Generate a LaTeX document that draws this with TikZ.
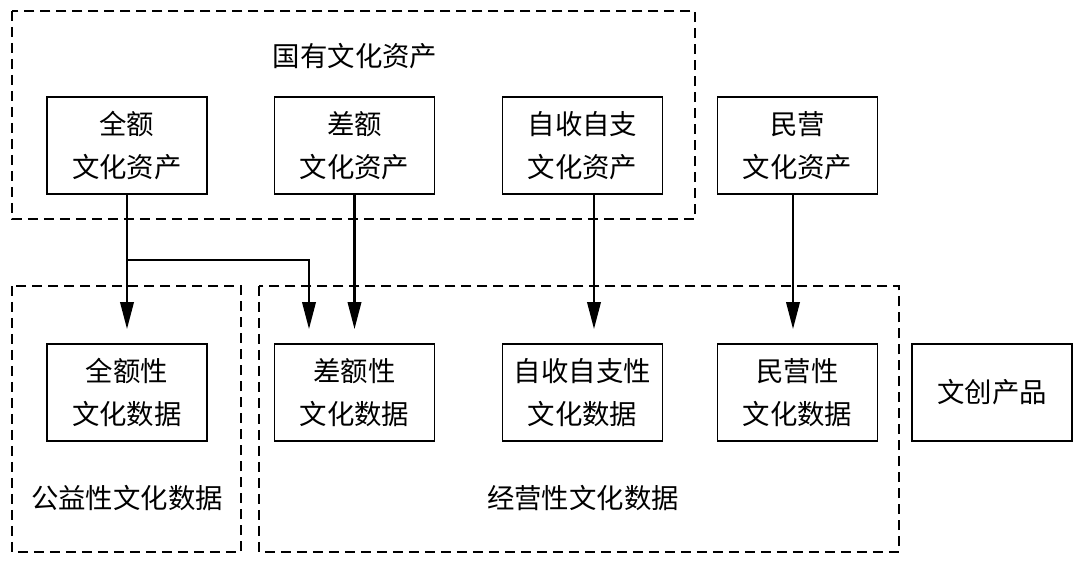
\documentclass[tikz,border=0pt]{standalone}
\usepackage{fontspec}
\setmainfont{Noto Sans CJK SC}
\usetikzlibrary{arrows.meta, positioning}
\tikzset{
  % box styles
  asset/.style={rectangle, draw=black, line width=1.1pt, minimum width=3.2cm, minimum height=1.94cm, inner sep=0pt, align=center, font=\fontsize{15.6}{24.4}\selectfont},
  group/.style={rectangle, draw=black, line width=1pt, dash pattern=on 0.2cm off 0.12cm},
  label/.style={font=\fontsize{15.6}{24.4}\selectfont},
  arrow/.style={-{Triangle[length=0.54cm, width=0.27cm]}, line width=1.2pt, shorten >=0.28cm},
}
\begin{document}
\begin{tikzpicture}[x=0.02cm, y=-0.02cm]
    \useasboundingbox (0,0) rectangle (1080,565);
    % Dashed groups
    \draw[group] (12,11) rectangle (695,219);
    \draw[group] (12,286) rectangle (241,552);
    \draw[group] (259,286) rectangle (899,552);
    \node[label] (gy) at (355,56) {国有文化资产};
    \node[label] (gyx) at (127,498) {公益性文化数据};
    \node[label] (jyx) at (583,498) {经营性文化数据};
    % Assets
    \node[asset] (qe) at (127,145.5) {全额\\文化资产};
    \node[asset] (ce) at (354.5,145.5) {差额\\文化资产};
    \node[asset] (zs) at (582.5,145.5) {自收自支\\文化资产};
    \node[asset] (my) at (797.5,145.5) {民营\\文化资产};
    % Data
    \node[asset] (qex) at (127,392.5) {全额性\\文化数据};
    \node[asset] (cex) at (354.5,392.5) {差额性\\文化数据};
    \node[asset] (zsx) at (582.5,392.5) {自收自支性\\文化数据};
    \node[asset] (myx) at (797.5,392.5) {民营性\\文化数据};
    \node[asset] (wc) at (992,392.5) {文创产品};
    % Arrows
    \coordinate (fork) at (127,260);
    \draw[arrow] (qe) -- (qex);
    \draw[arrow] (fork) -| ([xshift=-0.91cm]cex.north);
    \draw[arrow] (ce) -- (cex);
    \draw[arrow] ([xshift=0.23cm]zs.south) -- ([xshift=0.23cm]zsx.north);
    \draw[arrow] ([xshift=-0.09cm]my.south) -- ([xshift=-0.09cm]myx.north);
\end{tikzpicture}
\end{document}
